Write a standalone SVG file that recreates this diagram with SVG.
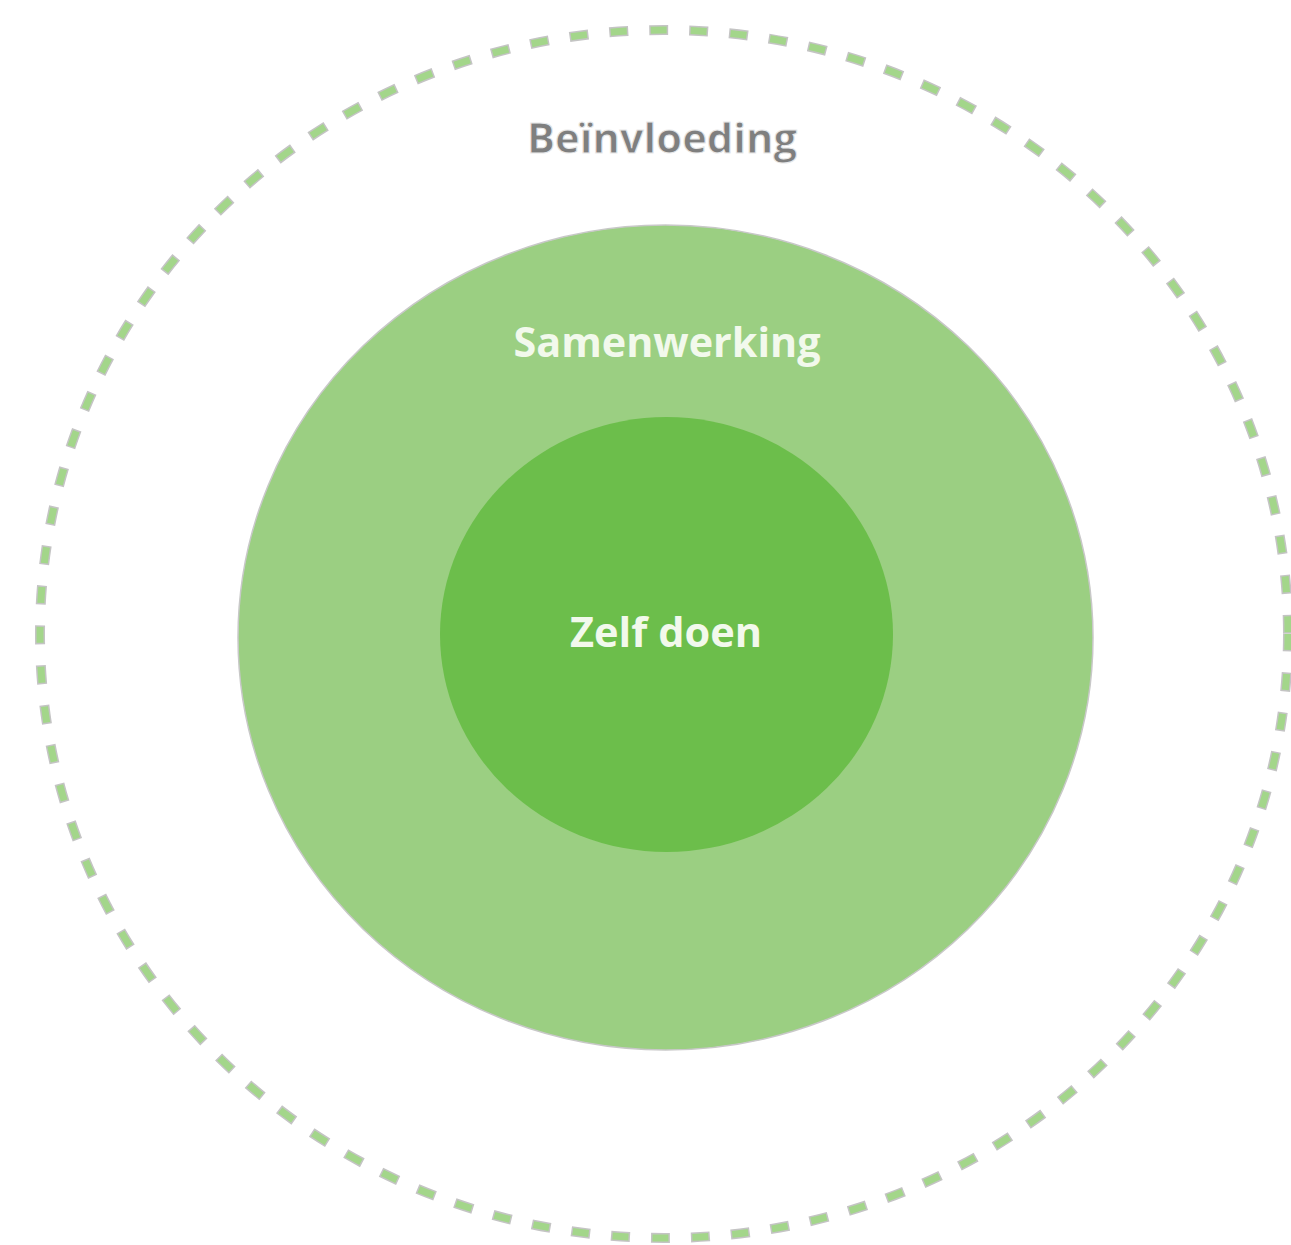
<svg xmlns="http://www.w3.org/2000/svg" width="1291" height="1245" viewBox="0 0 1291 1245">
<style>
.dash-out{fill:none;stroke:#c4c4c4;stroke-width:10;stroke-dasharray:19 21;stroke-dashoffset:1.5}
.dash-in{fill:none;stroke:#a3d68a;stroke-width:7;stroke-dasharray:16 24}
.lbl{font-family:"Open Sans","Liberation Sans",sans-serif;font-weight:bold;text-anchor:middle}
</style>
<rect width="1291" height="1245" fill="#ffffff"/>
<g id="beinvloeding">
<ellipse class="dash-out" cx="664" cy="634" rx="624" ry="604"/>
<ellipse class="dash-in" cx="664" cy="634" rx="624" ry="604"/>
<text class="lbl" x="662" y="153" font-size="41" fill="#7f7f7f" stroke="#e8e8e8" stroke-width="1" textLength="270" lengthAdjust="spacingAndGlyphs">Beïnvloeding</text>
</g>
<g id="samenwerking">
<ellipse cx="665.5" cy="637.5" rx="427.5" ry="412.5" fill="#9bcf82" stroke="#c8c8c8" stroke-width="1.5"/>
<text class="lbl" x="667" y="357" font-size="41" fill="#f2f9ec" textLength="307" lengthAdjust="spacingAndGlyphs">Samenwerking</text>
</g>
<g id="zelf-doen">
<ellipse cx="666.5" cy="634.5" rx="226.5" ry="217.5" fill="#6cbe4b"/>
<text class="lbl" x="666" y="647" font-size="41" fill="#f2f9ec" textLength="192" lengthAdjust="spacingAndGlyphs">Zelf doen</text>
</g>
<g id="connectors"/>
</svg>
